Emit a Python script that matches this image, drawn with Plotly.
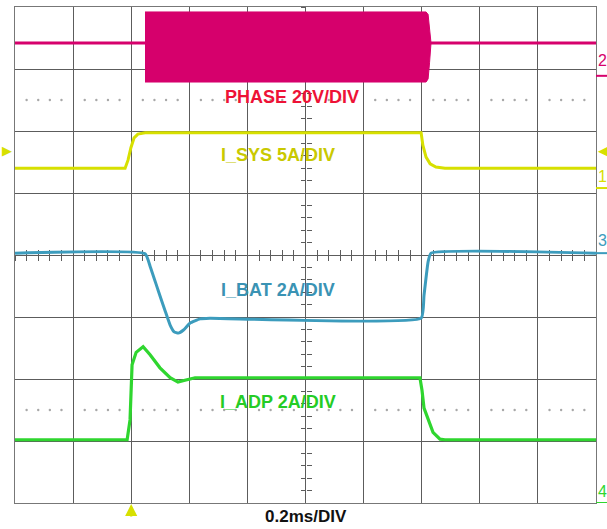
import numpy as np
import plotly.graph_objects as go

# ---------------- data (time in ms, amplitude in screen divisions) ----------------
# PHASE 20V/DIV : idle baseline + switching burst envelope
phase_base_t = [0.0, 0.4475, None, 1.418, 2.0]
phase_base_v = [3.42, 3.42, None, 3.42, 3.42]
burst_t = [0.4475, 1.415, 1.422, 1.427, 1.432, 1.427, 1.422, 1.415, 0.4475]
burst_v = [3.92, 3.92, 3.88, 3.65, 3.42, 3.10, 2.84, 2.79, 2.79]

# I_SYS 5A/DIV
isys_t = [0.0, 0.379, 0.389, 0.399, 0.410, 0.423, 0.448, 1.398, 1.404, 1.415, 1.429, 1.449, 1.480, 2.0]
isys_v = [1.40, 1.40, 1.53, 1.73, 1.89, 1.95, 1.97, 1.97, 1.77, 1.58, 1.47, 1.42, 1.40, 1.40]

# I_BAT 2A/DIV
ibat_t = [0.0, 0.448, 0.465, 0.492, 0.516, 0.534, 0.548, 0.562, 0.580, 0.602, 0.637, 0.671, 1.398, 1.408, 1.422, 1.432, 2.0]
ibat_v = [0.03, 0.02, -0.18, -0.56, -0.89, -1.13, -1.24, -1.26, -1.21, -1.10, -1.03, -1.02, -1.02, -0.65, -0.11, 0.03, 0.03]

# I_ADP 2A/DIV
iadp_t = [0.0, 0.386, 0.396, 0.403, 0.417, 0.441, 0.465, 0.499, 0.534, 0.561, 0.585, 0.620, 1.394, 1.401, 1.408, 1.422, 1.439, 1.463, 1.480, 2.0]
iadp_v = [-2.98, -2.98, -2.66, -1.77, -1.57, -1.48, -1.61, -1.82, -1.98, -2.05, -2.02, -1.98, -1.98, -2.18, -2.47, -2.66, -2.86, -2.97, -2.98, -2.98]

channel_names = ["1", "2", "3", "4"]
channel_ground = [1.08, 2.89, 0.03, -4.0]      # divisions
channel_label_y = [1.27, 3.13, 0.24, -3.81]
trigger_level = 1.69
trigger_time = 0.4

labels = ["PHASE 20V/DIV", "I_SYS 5A/DIV", "I_BAT 2A/DIV", "I_ADP 2A/DIV"]
label_t = [0.952, 0.904, 0.905, 0.905]
label_v = [2.556, 1.613, -0.565, -2.371]
timebase = "0.2ms/DIV"

PINK = "#d6006c"
YEL = "#d7e000"
YEL_TXT = "#c9c900"
BLUE = "#3c9cbd"
BLUE_TXT = "#3a93b4"
GREEN = "#2fd62f"
GREEN_TXT = "#25cc25"
RED_TXT = "#ee1236"
GRID = "#5c5c5c"

fig = go.Figure()

# graticule dotted rows
k = np.arange(1, 50)
k = k[k % 5 != 0]
for yy in (2.5, -2.5):
    fig.add_trace(go.Scatter(x=k * 0.04, y=[yy] * len(k), mode="markers",
                             marker=dict(size=2.4, color="#a8a8a8"), hoverinfo="skip", showlegend=False))

# PHASE
fig.add_trace(go.Scatter(x=burst_t, y=burst_v, fill="toself", mode="lines",
                         line=dict(color=PINK, width=1), fillcolor=PINK, showlegend=False))
fig.add_trace(go.Scatter(x=phase_base_t, y=phase_base_v, mode="lines",
                         line=dict(color=PINK, width=3), showlegend=False))
# currents
fig.add_trace(go.Scatter(x=isys_t, y=isys_v, mode="lines", line=dict(color=YEL, width=3), showlegend=False))
fig.add_trace(go.Scatter(x=ibat_t, y=ibat_v, mode="lines", line=dict(color=BLUE, width=3, shape="spline", smoothing=0.4), showlegend=False))
fig.add_trace(go.Scatter(x=iadp_t, y=iadp_v, mode="lines", line=dict(color=GREEN, width=3.2), showlegend=False))

# center tick axes
common = dict(showgrid=False, zeroline=False, showticklabels=False, showline=False,
              tickcolor=GRID, tickwidth=1.2, ticklen=5, layer="below traces")
fig.update_layout(
    xaxis=dict(range=[0, 2], dtick=0.2, tick0=0, showgrid=True, gridcolor=GRID, gridwidth=1.3,
               zeroline=False, showticklabels=False, ticks="", showline=True, mirror=True,
               linecolor="#777777", linewidth=1.3, fixedrange=True),
    yaxis=dict(range=[-4, 4], dtick=1, tick0=0, showgrid=True, gridcolor=GRID, gridwidth=1.3,
               zeroline=False, showticklabels=False, ticks="", showline=True, mirror=True,
               linecolor="#777777", linewidth=1.3, fixedrange=True),
    xaxis2=dict(overlaying="x", anchor="free", position=0.5, range=[0, 2], tick0=0, dtick=0.04,
                ticks="outside", side="bottom", **common),
    xaxis3=dict(overlaying="x", anchor="free", position=0.5, range=[0, 2], tick0=0, dtick=0.04,
                ticks="inside", side="bottom", **common),
    yaxis2=dict(overlaying="y", anchor="free", position=0.5, range=[-4, 4], tick0=0, dtick=0.2,
                ticks="outside", side="left", **common),
    yaxis3=dict(overlaying="y", anchor="free", position=0.5, range=[-4, 4], tick0=0, dtick=0.2,
                ticks="inside", side="left", **common),
)
# dummy traces to activate tick axes
fig.add_trace(go.Scatter(x=[None], y=[None], xaxis="x2", yaxis="y2", showlegend=False))
fig.add_trace(go.Scatter(x=[None], y=[None], xaxis="x3", yaxis="y3", showlegend=False))

# labels
colors_txt = [RED_TXT, YEL_TXT, BLUE_TXT, GREEN_TXT]
for txt, tx, ty, c in zip(labels, label_t, label_v, colors_txt):
    fig.add_annotation(x=tx, y=ty, xref="x", yref="y", text=f"<b>{txt}</b>", showarrow=False,
                       font=dict(family="Liberation Sans, Arial", size=18, color=c))

fig.add_annotation(x=0.5, y=-0.028, xref="paper", yref="paper", text=f"<b>{timebase}</b>",
                   showarrow=False, yanchor="middle",
                   font=dict(family="Liberation Sans, Arial", size=17, color="#111111"))

# trigger level arrows (left and right edges)
fig.add_annotation(x=0.0, y=trigger_level, xref="paper", yref="y", text="▶", showarrow=False,
                   xanchor="right", xshift=-1, yanchor="middle",
                   font=dict(family="DejaVu Sans", size=13, color=YEL))
fig.add_annotation(x=1.0, y=trigger_level, xref="paper", yref="y", text="◀", showarrow=False,
                   xanchor="left", xshift=0, yanchor="middle",
                   font=dict(family="DejaVu Sans", size=13, color=YEL))

# channel markers on the right edge
ch_colors = [YEL, PINK, BLUE, GREEN]
for name, g, ly, c in zip(channel_names, channel_ground, channel_label_y, ch_colors):
    fig.add_annotation(x=1.0, y=ly, xref="paper", yref="y", text=name, showarrow=False,
                       xanchor="left", xshift=0, yanchor="middle",
                       font=dict(family="Liberation Sans, Arial", size=16, color=c))
    fig.add_shape(type="line", xref="paper", yref="y", x0=1.0, x1=1.02, y0=g, y1=g,
                  line=dict(color=c, width=2))

# trigger time arrow
fig.add_annotation(x=trigger_time, y=-4, xref="x", yref="y", ax=0, ay=15, text="",
                   showarrow=True, arrowhead=2, arrowsize=1.1, arrowwidth=2.2, arrowcolor=YEL,
                   standoff=1)

fig.update_layout(width=607, height=529, margin=dict(l=15, r=11, t=7, b=26),
                  paper_bgcolor="white", plot_bgcolor="white", showlegend=False)

fig.write_html("out.html", config={"displayModeBar": False},
               post_script="document.body.style.margin='0';document.body.style.padding='0';")
